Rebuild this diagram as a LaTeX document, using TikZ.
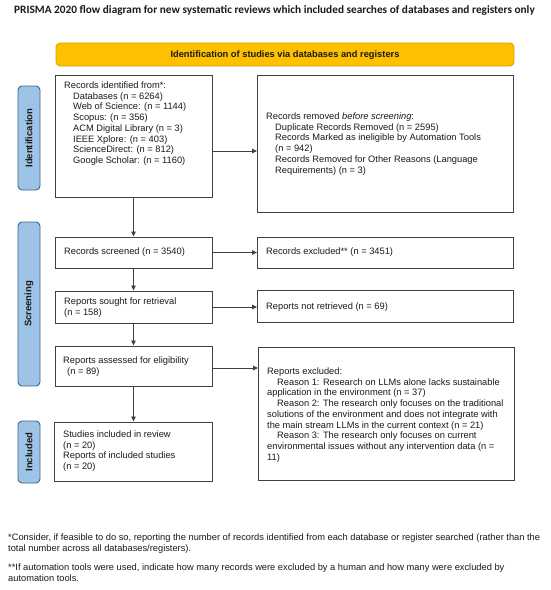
\documentclass[tikz,border=0pt]{standalone}
\usepackage{fontspec}
\setmainfont{Liberation Sans}
\newfontfamily\titlefont{Carlito}
\usetikzlibrary{arrows.meta}
\definecolor{barYellow}{HTML}{FFC000}
\definecolor{barYellowEdge}{HTML}{D9A300}
\definecolor{sideBlue}{HTML}{9DC3E6}
\definecolor{sideEdge}{HTML}{41648C}
\definecolor{boxEdge}{HTML}{404040}
\definecolor{txt}{HTML}{1A1A1A}
\tikzset{
  flowbox/.style={draw=boxEdge, line width=1pt, fill=white},
  sidebar/.style={draw=sideEdge, line width=0.9pt, fill=sideBlue, rounded corners=4pt},
  sidelabel/.style={rotate=90, font=\bfseries\fontsize{9.5}{11}\selectfont, text=txt},
  boxtext/.style={anchor=north west, inner sep=0pt, align=left, text=txt, font=\fontsize{9.3}{10.75}\selectfont},
  arr/.style={draw=boxEdge, line width=0.8pt, -{Triangle[length=5pt,width=4.5pt]}},
}
\newcommand{\ind}{\hspace*{9pt}}
\begin{document}
\begin{tikzpicture}[x=1pt,y=-1pt]
\path[use as bounding box, fill=white] (0,0) rectangle (550,590);

% title
\node[font=\titlefont\bfseries\fontsize{11.3}{13}\selectfont, text=txt] (title) at (274.5,10.5) {PRISMA 2020 flow diagram for new systematic reviews which included searches of databases and registers only};

% yellow header bar
\draw[draw=barYellowEdge, fill=barYellow, line width=0.8pt, rounded corners=4pt] (56,43) rectangle (514,66);
\node[font=\bfseries\fontsize{9.3}{11}\selectfont, text=txt] (head) at (285,55) {Identification of studies via databases and registers};

% side bars
\draw[sidebar] (18,86) rectangle (40,190);
\node[sidelabel] (lid) at (29,138) {Identification};
\draw[sidebar] (18,222) rectangle (40,386);
\node[sidelabel] (lsc) at (29,304) {Screening};
\draw[sidebar] (18,421) rectangle (40,483);
\node[sidelabel] (lin) at (29,452) {Included};

% boxes
\node[flowbox, minimum width=157pt, minimum height=122pt] (rec) at (133.5,136) {};
\node[flowbox, minimum width=256pt, minimum height=137pt] (rem) at (385.5,143.5) {};
\node[flowbox, minimum width=157pt, minimum height=31pt] (scr) at (133.5,252.5) {};
\node[flowbox, minimum width=256pt, minimum height=31pt] (exc) at (385.5,252.5) {};
\node[flowbox, minimum width=157pt, minimum height=32pt] (sou) at (133.5,307) {};
\node[flowbox, minimum width=256pt, minimum height=32pt] (nret) at (385.5,306.5) {};
\node[flowbox, minimum width=157pt, minimum height=40pt] (ass) at (133.5,366) {};
\node[flowbox, minimum width=256pt, minimum height=133pt] (rexc) at (386.5,413.5) {};
\node[flowbox, minimum width=158pt, minimum height=59pt] (inc) at (133.5,451.5) {};

% texts
\node[boxtext] (trec) at (64,81.5) {Records identified from*:\\
\ind Databases (n = 6264)\\
\ind Web of Science: (n = 1144)\\
\ind Scopus: (n = 356)\\
\ind ACM Digital Library (n = 3)\\
\ind IEEE Xplore: (n = 403)\\
\ind ScienceDirect: (n = 812)\\
\ind Google Scholar: (n = 1160)};

\node[boxtext] (trem) at (266,112.5) {Records removed \textit{before screening}:\\
\ind Duplicate Records Removed (n = 2595)\\
\ind Records Marked as ineligible by Automation Tools\\
\ind (n = 942)\\
\ind Records Removed for Other Reasons (Language\\
\ind Requirements) (n = 3)};

\node[boxtext] (tscr) at (64,248) {Records screened (n = 3540)};
\node[boxtext] (texc) at (266,247.5) {Records excluded** (n = 3451)};
\node[boxtext] (tsou) at (64,297.5) {Reports sought for retrieval\\(n = 158)};
\node[boxtext] (tnret) at (266,302.5) {Reports not retrieved (n = 69)};
\node[boxtext] (tass) at (63,356.5) {Reports assessed for eligibility\\\hspace*{4pt}(n = 89)};
\node[boxtext] (trexc) at (267,367.5) {Reports excluded:\\
\hspace*{10pt}Reason 1: Research on LLMs alone lacks sustainable\\
application in the environment (n = 37)\\
\hspace*{10pt}Reason 2: The research only focuses on the traditional\\
solutions of the environment and does not integrate with\\
the main stream LLMs in the current context (n = 21)\\
\hspace*{10pt}Reason 3: The research only focuses on current\\
environmental issues without any intervention data (n =\\
11)};
\node[boxtext] (tinc) at (63,430.5) {Studies included in review\\
(n = 20)\\
Reports of included studies\\
(n = 20)};

% footnotes
\node[boxtext] (fn1) at (8,533.5) {*Consider, if feasible to do so, reporting the number of records identified from each database or register searched (rather than the\\
total number across all databases/registers).};
\node[boxtext] (fn2) at (8,563.5) {**If automation tools were used, indicate how many records were excluded by a human and how many were excluded by\\
automation tools.};

% connectors
\draw[arr] (rec.east |- 0,151) -- (rem.west |- 0,151);
\draw[arr] (rec.south) -- (scr.north);
\draw[arr] (scr.east) -- (exc.west);
\draw[arr] (scr.south) -- (sou.north);
\draw[arr] (sou.east) -- (sou.east -| nret.west);
\draw[arr] (sou.south) -- (ass.north);
\draw[arr] (ass.east |- 0,368) -- (rexc.west |- 0,368);
\draw[arr] (ass.south) -- (inc.north);
\end{tikzpicture}
\end{document}
